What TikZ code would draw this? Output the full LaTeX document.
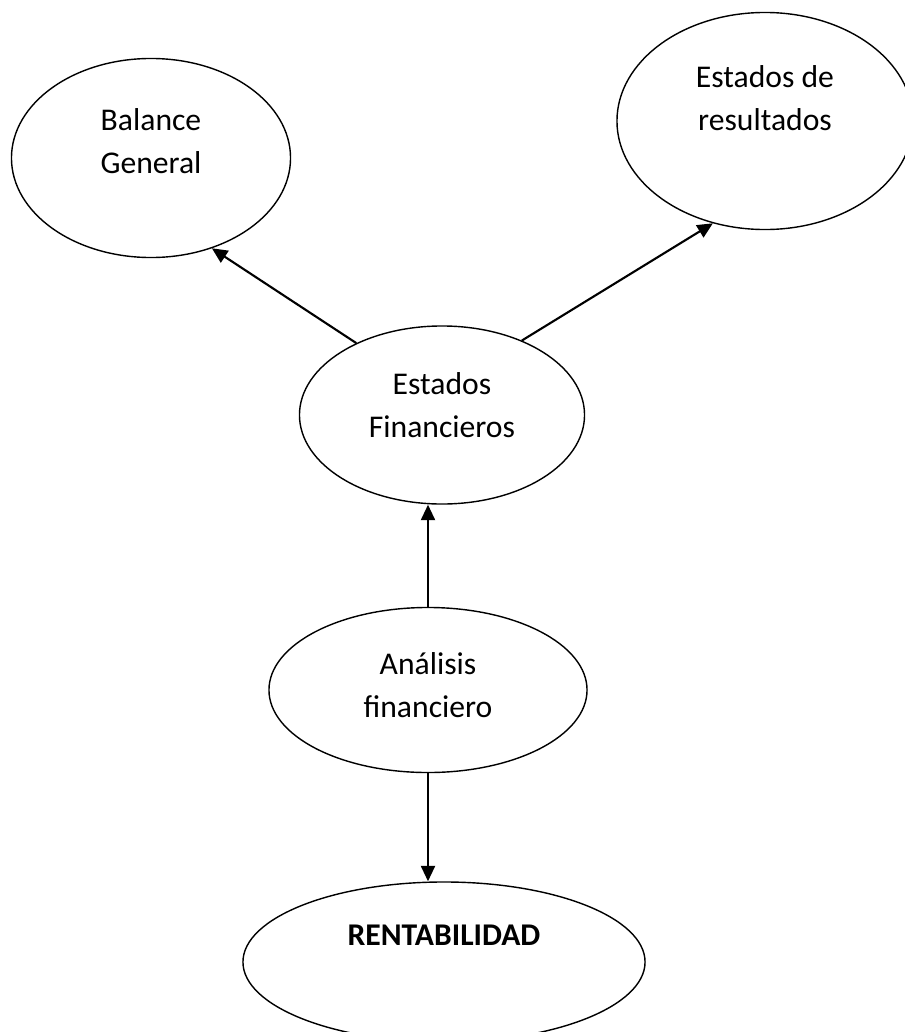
\documentclass[tikz,border=0pt]{standalone}
\usepackage{fontspec}
\setmainfont{Carlito}
\usetikzlibrary{shapes.geometric,arrows.meta}

\begin{document}
\begin{tikzpicture}[x=0.025cm,y=-0.025cm]
\tikzset{OvalStyle/.style ={draw, ellipse, line width=1pt, inner sep=0pt}}
\tikzset{TextStyle/.style ={align=center, font=\fontsize{22.5}{31}\selectfont}}
\tikzset{EdgeStyle/.style ={line width=1.5pt, -{Triangle[length=11pt,width=10pt]}}}
\useasboundingbox (0,0) rectangle (905,1032);
\clip (0,0) rectangle (905,1032);
\node[OvalStyle, minimum width=6.975cm, minimum height=4.975cm] (BG) at (151,158) {};
\node[OvalStyle, minimum width=7.4cm, minimum height=5.425cm] (ER) at (765,121) {};
\node[OvalStyle, minimum width=7.125cm, minimum height=4.45cm] (EF) at (442,415) {};
\node[OvalStyle, minimum width=7.95cm, minimum height=4.125cm] (AF) at (428,690) {};
\node[OvalStyle, minimum width=10.05cm, minimum height=4cm] (R) at (444,962) {};
\node[TextStyle] (BGt) at (151,141) {Balance\\General};
\node[TextStyle] (ERt) at (765,98) {Estados de\\resultados};
\node[TextStyle] (EFt) at (442,405) {Estados\\Financieros};
\node[TextStyle] (AFt) at (428,685) {Análisis\\financiero};
\node[TextStyle, font=\fontsize{22.5}{31}\selectfont\bfseries] (Rt) at (444,935) {RENTABILIDAD};
\draw[EdgeStyle] (EF.140) -- (BG.304);
\draw[EdgeStyle] (EF.43) -- (ER.243);
\draw[EdgeStyle] (AF.north) -- (EF.south -| AF.north);
\draw[EdgeStyle] (AF.south) -- (R.north -| AF.south);
\end{tikzpicture}
\end{document}
